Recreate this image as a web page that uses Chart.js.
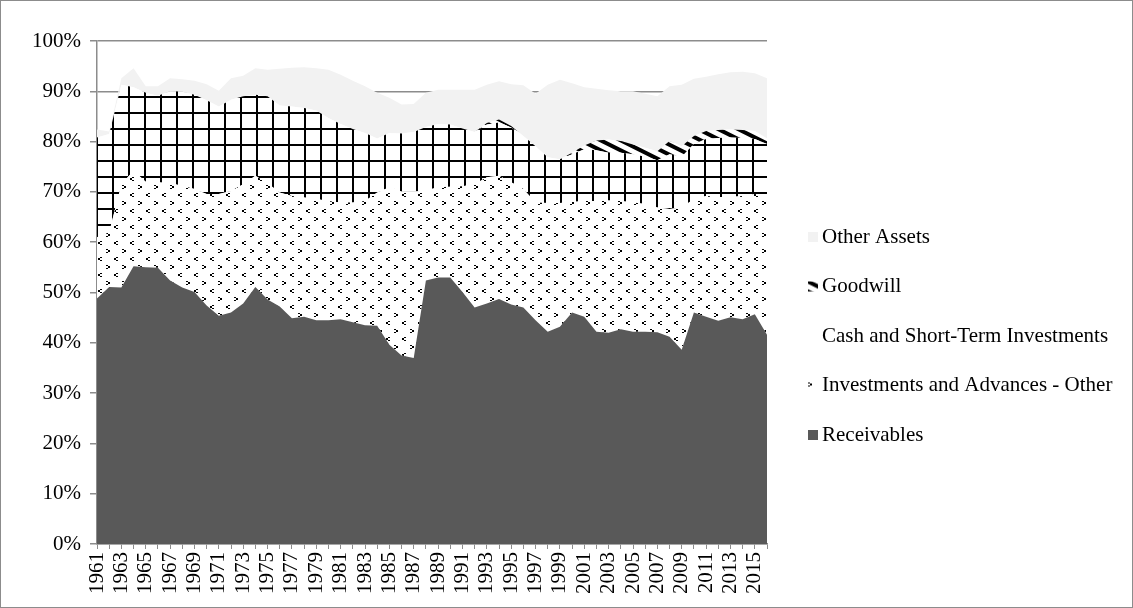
<!DOCTYPE html>
<html>
<head>
<meta charset="utf-8">
<title>Asset composition 1961-2016</title>
<script src="https://cdn.jsdelivr.net/npm/chart.js@4.4.1/dist/chart.umd.min.js"></script>
<style>
  html, body { margin: 0; padding: 0; background: #fff; }
  canvas { display: block; }
</style>
</head>
<body>
<canvas id="assetChart" width="1133" height="608"></canvas>
<script>
const years = ['1961','1962','1963','1964','1965','1966','1967','1968','1969','1970',
  '1971','1972','1973','1974','1975','1976','1977','1978','1979','1980',
  '1981','1982','1983','1984','1985','1986','1987','1988','1989','1990',
  '1991','1992','1993','1994','1995','1996','1997','1998','1999','2000',
  '2001','2002','2003','2004','2005','2006','2007','2008','2009','2010',
  '2011','2012','2013','2014','2015','2016'];

const yTickLabels = ['0%','10%','20%','30%','40%','50%','60%','70%','80%','90%','100%'];

const receivables = [48.8, 51.1, 51.0, 55.2, 55.0, 54.9, 52.4, 51.0, 50.1, 47.4,
  45.4, 46.0, 47.8, 51.1, 48.6, 47.2, 44.9, 45.2, 44.5, 44.5,
  44.7, 44.1, 43.5, 43.4, 39.6, 37.5, 37.0, 52.4, 53.0, 53.0,
  50.1, 47.0, 47.8, 48.7, 47.6, 47.0, 44.5, 42.2, 43.2, 46.0,
  45.2, 42.2, 42.0, 42.7, 42.2, 42.2, 42.1, 41.2, 38.6, 46.0,
  45.2, 44.4, 45.1, 44.7, 45.7, 41.6];

const investments = [12.2, 10.9, 20.5, 19.0, 17.0, 17.0, 19.3, 20.2, 20.5, 22.2,
  24.2, 24.2, 23.7, 22.1, 23.1, 22.7, 24.3, 23.7, 24.1, 23.7,
  23.2, 23.8, 24.7, 26.5, 31.3, 32.6, 33.1, 17.9, 17.9, 18.0,
  21.0, 24.5, 25.1, 24.5, 24.3, 23.6, 23.4, 25.6, 24.6, 22.0,
  23.0, 26.0, 26.3, 25.5, 25.7, 25.4, 24.8, 25.4, 28.3, 22.6,
  24.0, 24.6, 23.9, 24.5, 23.9, 27.6];

const cash = [19.8, 19.5, 19.8, 16.6, 17.7, 17.2, 18.3, 18.7, 18.7, 18.6,
  17.4, 18.1, 17.5, 16.1, 17.3, 17.3, 17.8, 17.8, 17.6, 16.5,
  15.6, 14.6, 13.5, 10.7, 10.8, 11.5, 11.8, 12.6, 12.6, 12.4,
  11.5, 10.4, 10.5, 10.6, 10.9, 10.5, 11.2, 9.1, 8.7, 9.5,
  10.3, 10.1, 9.5, 9.6, 9.6, 9.4, 9.4, 10.9, 10.1, 10.9,
  11.3, 11.7, 11.8, 11.5, 10.9, 10.3];

const goodwill = [0, 0, 0, 0, 0, 0, 0, 0, 0, 0,
  0, 0, 0, 0, 0, 0, 0, 0, 0, 0,
  0, 0, 0, 0, 0, 0, 0, 0, 0, 0,
  0, 0, 0.3, 0.6, 0.3, 0, 0, 0, 0, 0.3,
  0.7, 1.9, 2.6, 2.3, 1.9, 1.8, 1.8, 2.6, 2.1, 1.6,
  1.6, 1.6, 1.6, 1.6, 1.6, 1.1];

const otherAssets = [1.6, 0.5, 1.3, 3.8, 1.3, 1.9, 2.6, 2.5, 2.8, 3.2,
  3.1, 4.3, 4.1, 5.3, 5.3, 7.3, 7.7, 8.1, 8.4, 9.6,
  9.8, 9.6, 9.3, 9.1, 7.0, 5.8, 5.6, 6.8, 6.8, 6.9,
  7.7, 8.4, 7.6, 7.6, 8.3, 10.1, 10.4, 14.4, 15.8, 13.8,
  11.6, 10.3, 9.8, 9.9, 10.6, 10.7, 10.9, 10.9, 12.2, 11.4,
  10.8, 11.1, 11.4, 11.6, 11.5, 12.0];

// fill patterns, built on small tile canvases
function makePattern(w, h, draw) {
  const c = document.createElement('canvas');
  c.width = w;
  c.height = h;
  const g = c.getContext('2d');
  g.fillStyle = '#fff';
  g.fillRect(0, 0, w, h);
  g.fillStyle = '#000';
  g.strokeStyle = '#000';
  draw(g);
  return g.createPattern(c, 'repeat');
}

function leftMark(g, x, y) {
  g.fillRect(x + 2, y, 2, 1);
  g.fillRect(x, y + 1, 2, 2);
  g.fillRect(x + 2, y + 3, 2, 1);
}
function rightMark(g, x, y) {
  g.fillRect(x, y, 2, 1);
  g.fillRect(x + 2, y + 1, 2, 2);
  g.fillRect(x, y + 3, 2, 1);
}

const dotPattern = makePattern(16, 16, g => {
  leftMark(g, 2, 1);
  rightMark(g, 10, 9);
});

const gridPattern = makePattern(16, 16, g => {
  g.fillRect(0, 0, 16, 2);
  g.fillRect(0, 0, 2, 16);
});

const hatchPattern = makePattern(20, 10, g => {
  g.lineWidth = 4;
  [-10, 0, 10].forEach(dy => {
    g.beginPath();
    g.moveTo(-20, -10 + dy);
    g.lineTo(40, 20 + dy);
    g.stroke();
  });
});

const pageFrame = {
  id: 'pageFrame',
  beforeDraw(chart) {
    const ctx = chart.ctx;
    ctx.save();
    ctx.fillStyle = '#fff';
    ctx.fillRect(0, 0, chart.width, chart.height);
    ctx.strokeStyle = '#8c8c8c';
    ctx.lineWidth = 1;
    ctx.strokeRect(0.5, 0.5, chart.width - 1, chart.height - 1);
    ctx.restore();
  }
};

// swatch offsets so each pattern shows a recognisable piece
const swatchShift = { 'Investments and Advances - Other': [10, 7], 'Cash and Short-Term Investments': [4, 4] };

const sideLegend = {
  id: 'sideLegend',
  afterDraw(chart) {
    const ctx = chart.ctx;
    ctx.save();
    ctx.font = '21px "Liberation Serif"';
    ctx.textBaseline = 'middle';
    const items = chart.data.datasets.slice().reverse();
    items.forEach((ds, i) => {
      const y = 237 + i * 49.5;
      const [sx, sy] = swatchShift[ds.label] || [0, 0];
      ctx.save();
      ctx.translate(808 - sx, y - 5 - sy);
      ctx.fillStyle = ds.backgroundColor;
      ctx.fillRect(sx, sy, 10, 10);
      ctx.restore();
      ctx.fillStyle = '#000';
      ctx.fillText(ds.label, 822, y);
    });
    ctx.restore();
  }
};

function areaSet(label, data, fill, bg) {
  return {
    label: label,
    data: data,
    fill: fill,
    backgroundColor: bg,
    borderWidth: 0,
    pointRadius: 0,
    tension: 0
  };
}

const ctx = document.getElementById('assetChart').getContext('2d');
new Chart(ctx, {
  type: 'line',
  data: {
    labels: years,
    datasets: [
      areaSet('Receivables', receivables, 'origin', '#595959'),
      areaSet('Investments and Advances - Other', investments, '-1', dotPattern),
      areaSet('Cash and Short-Term Investments', cash, '-1', gridPattern),
      areaSet('Goodwill', goodwill, '-1', hatchPattern),
      areaSet('Other Assets', otherAssets, '-1', '#f2f2f2')
    ]
  },
  options: {
    responsive: false,
    devicePixelRatio: 1,
    animation: false,
    layout: { padding: { left: 0, right: 366, top: 41, bottom: 0 } },
    plugins: {
      legend: { display: false },
      tooltip: { enabled: false }
    },
    scales: {
      x: {
        offset: false,
        grid: { drawOnChartArea: false, drawTicks: true, tickLength: 5, color: '#8c8c8c', lineWidth: 1 },
        border: { color: '#8c8c8c', width: 1.5 },
        ticks: {
          autoSkip: false,
          maxRotation: 90,
          minRotation: 90,
          padding: 3,
          color: '#000',
          font: { family: '"Liberation Serif"', size: 21 },
          callback: (v, i) => (i % 2 === 0 ? years[i] : '')
        },
        afterFit: scale => { scale.height = 64; }
      },
      y: {
        stacked: true,
        min: 0,
        max: 100,
        grid: { color: '#8c8c8c', lineWidth: 1.5, tickLength: 7 },
        border: { color: '#8c8c8c', width: 1.5 },
        ticks: {
          stepSize: 10,
          padding: 9,
          color: '#000',
          font: { family: '"Liberation Serif"', size: 21 },
          callback: v => yTickLabels[Math.round(v / 10)]
        },
        afterFit: scale => { scale.width = 97; }
      }
    }
  },
  plugins: [pageFrame, sideLegend]
});
</script>
</body>
</html>
